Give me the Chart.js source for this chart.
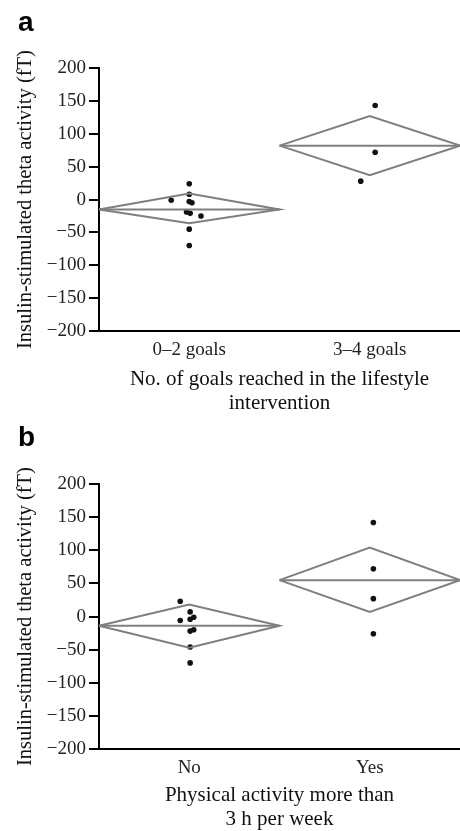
<!DOCTYPE html>
<html>
<head>
<meta charset="utf-8">
<script src="https://cdn.jsdelivr.net/npm/chart.js@4/dist/chart.umd.min.js"></script>
<style>
  html, body { margin: 0; padding: 0; background: #fff; }
  #panelA { position: absolute; left: 0; top: 0; width: 460px; height: 415px; }
  #panelB { position: absolute; left: 0; top: 415px; width: 460px; height: 416px; }
</style>
</head>
<body>
<div id="panelA"><canvas id="chartA"></canvas></div>
<div id="panelB"><canvas id="chartB"></canvas></div>
<script>
// == 데이터 == //
const yTicks = [-200, -150, -100, -50, 0, 50, 100, 150, 200];

// a : goals reached
const goalsLabels = ['0–2 goals', '3–4 goals'];
const goalsMean = [-15, 82];
const goalsUpper = [9, 127];
const goalsLower = [-36, 37];
const goalsLowValues = [24, 8, -1, -3, -5, -19, -21, -25, -45, -70];
const goalsLowJitter = [0.50, 0.50, 0.40, 0.50, 0.515, 0.485, 0.505, 0.565, 0.50, 0.50];
const goalsHighValues = [143, 72, 28];
const goalsHighJitter = [1.53, 1.53, 1.45];

// b : physical activity
const activityLabels = ['No', 'Yes'];
const activityMean = [-14, 55];
const activityUpper = [18, 104];
const activityLower = [-47, 7];
const activityNoValues = [23, 7, -6, -4, -1, -22, -20, -46, -70];
const activityNoJitter = [0.45, 0.505, 0.45, 0.505, 0.525, 0.505, 0.525, 0.505, 0.505];
const activityYesValues = [142, 72, 27, -26];
const activityYesJitter = [1.52, 1.52, 1.52, 1.52];

const GRAY = '#7f7f7f';
const SERIF = "'Liberation Serif', 'Times New Roman', serif";

function minusSign(v) {
  return v < 0 ? '\u2212' + Math.abs(v) : String(v);
}

// 다이아몬드 (mean + CI)
function diamonds(mean, upper, lower) {
  const sets = [];
  mean.forEach((m, i) => {
    sets.push({
      type: 'line',
      data: [
        { x: i, y: m }, { x: i + 0.5, y: upper[i] }, { x: i + 1, y: m },
        { x: i + 0.5, y: lower[i] }, { x: i, y: m }
      ],
      borderColor: GRAY,
      borderWidth: 2,
      pointRadius: 0,
      fill: false,
      clip: false
    });
    sets.push({
      type: 'line',
      data: [{ x: i, y: m }, { x: i + 1, y: m }],
      borderColor: GRAY,
      borderWidth: 2,
      pointRadius: 0,
      fill: false,
      clip: false
    });
  });
  return sets;
}

function dots(values, jitter) {
  return {
    type: 'scatter',
    data: values.map((v, i) => ({ x: jitter[i], y: v })),
    backgroundColor: '#111',
    borderWidth: 0,
    pointRadius: 2.8,
    clip: false
  };
}

function makeChart(id, letter, labels, xTitle, datasets, gapTop, axisHeight) {
  new Chart(document.getElementById(id), {
    data: { datasets: datasets },
    options: {
      responsive: true,
      maintainAspectRatio: false,
      animation: false,
      layout: { autoPadding: false, padding: { left: 18, right: 0, top: 0, bottom: 0 } },
      plugins: {
        legend: { display: false },
        tooltip: { enabled: false },
        title: {
          display: true,
          text: letter,
          align: 'start',
          color: '#000',
          font: { family: "'Liberation Sans', Arial, sans-serif", size: 28, weight: 'bold', lineHeight: 1.2 },
          padding: { top: 6, bottom: gapTop }
        }
      },
      scales: {
        x: {
          type: 'linear',
          min: 0,
          max: 2,
          afterBuildTicks: (s) => { s.ticks = [{ value: 0.5 }, { value: 1.5 }]; },
          afterFit: (s) => { s.height = axisHeight; },
          ticks: {
            callback: (v) => labels[Math.round(v - 0.5)],
            color: '#222',
            padding: 0,
            maxRotation: 0,
            font: { family: SERIF, size: 19 }
          },
          grid: { display: false },
          border: { display: true, color: '#000', width: 2 },
          title: {
            display: true,
            text: xTitle,
            color: '#111',
            padding: { top: 0, bottom: -1 },
            font: { family: SERIF, size: 21, lineHeight: 1.15 }
          }
        },
        y: {
          min: -200,
          max: 200,
          afterBuildTicks: (s) => { s.ticks = yTicks.map((v) => ({ value: v })); },
          afterFit: (s) => { s.width = 81; },
          ticks: {
            callback: (v) => minusSign(v),
            color: '#222',
            padding: 3,
            font: { family: SERIF, size: 19 }
          },
          grid: { drawOnChartArea: false, drawTicks: true, tickLength: 10, color: '#000', lineWidth: 2 },
          border: { display: true, color: '#000', width: 2 },
          title: {
            display: true,
            text: 'Insulin-stimulated theta activity (fT)',
            color: '#111',
            padding: { top: -3, bottom: 0 },
            font: { family: SERIF, size: 20.5, lineHeight: 1 }
          }
        }
      }
    }
  });
}

makeChart('chartA', 'a', goalsLabels,
  ['No. of goals reached in the lifestyle', 'intervention'],
  diamonds(goalsMean, goalsUpper, goalsLower)
    .concat([dots(goalsLowValues, goalsLowJitter), dots(goalsHighValues, goalsHighJitter)]),
  28.5, 84);

makeChart('chartB', 'b', activityLabels,
  ['Physical activity more than', '3 h per week'],
  diamonds(activityMean, activityUpper, activityLower)
    .concat([dots(activityNoValues, activityNoJitter), dots(activityYesValues, activityYesJitter)]),
  29.5, 82);
</script>
</body>
</html>
